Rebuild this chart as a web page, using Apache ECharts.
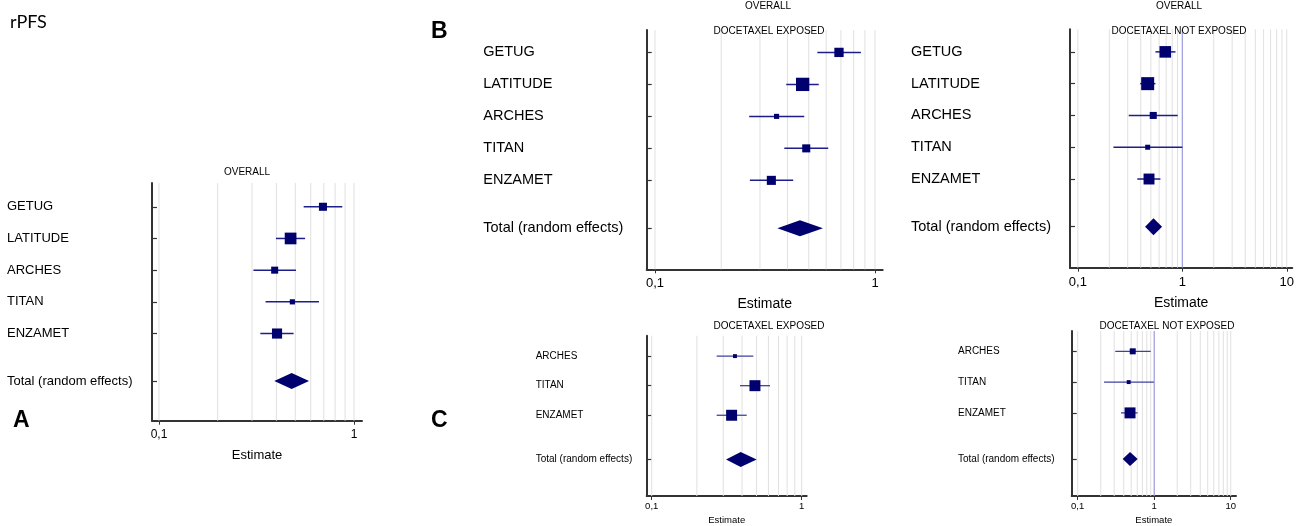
<!DOCTYPE html>
<html>
<head>
<meta charset="utf-8">
<script src="https://cdn.jsdelivr.net/npm/echarts@6/dist/echarts.min.js"></script>
<style>html,body{margin:0;padding:0;background:#fff}#c{width:1297px;height:526px}</style>
</head>
<body>
<div id="c"></div>
<script>
// ---------------- DATA ----------------
const studiesOverall = ['GETUG', 'LATITUDE', 'ARCHES', 'TITAN', 'ENZAMET'];
const studiesC = ['ARCHES', 'TITAN', 'ENZAMET'];
const totalLabel = 'Total (random effects)';
const rowsOverall = [0, 1, 2, 3, 4, 5.5];
const rowsC = [0, 1, 2, 3.5];

// Panel A: overall
const aEst  = [0.693, 0.473, 0.392, 0.483, 0.403];
const aLow  = [0.552, 0.398, 0.305, 0.352, 0.331];
const aHigh = [0.871, 0.561, 0.504, 0.661, 0.490];
const aWeight = [17, 36, 13, 7, 27];
const aTotal = [0.390, 0.479, 0.588]; // low, est, high

// Panel B1: overall, docetaxel exposed
const b1Est  = [0.686, 0.469, 0.357, 0.487, 0.338];
const b1Low  = [0.547, 0.395, 0.268, 0.387, 0.270];
const b1High = [0.863, 0.555, 0.477, 0.613, 0.425];
const b1Weight = [20, 41, 6, 15, 19];
const b1Total = [0.360, 0.456, 0.580];

// Panel B2: overall, docetaxel not exposed
const b2Est  = [0.687, 0.466, 0.527, 0.466, 0.480];
const b2Low  = [0.553, 0.395, 0.307, 0.219, 0.371];
const b2High = [0.860, 0.553, 0.904, 1.000, 0.617];
const b2Weight = [27, 34, 10, 5, 24];
const b2Total = [0.440, 0.530, 0.640];

// Panel C1: docetaxel exposed
const c1Est  = [0.359, 0.488, 0.341];
const c1Low  = [0.271, 0.388, 0.271];
const c1High = [0.476, 0.615, 0.430];
const c1Weight = [6, 47, 47];
const c1Total = [0.313, 0.392, 0.501];

// Panel C2: docetaxel not exposed
const c2Est  = [0.524, 0.464, 0.483];
const c2Low  = [0.310, 0.221, 0.368];
const c2High = [0.900, 0.990, 0.608];
const c2Weight = [21, 9, 70];
const c2Total = [0.387, 0.483, 0.608];

const gridNarrow = [0.1, 0.2, 0.3, 0.4, 0.5, 0.6, 0.7, 0.8, 0.9, 1];
const gridWide = [0.1, 0.2, 0.3, 0.4, 0.5, 0.6, 0.7, 0.8, 0.9, 2, 3, 4, 5, 6, 7, 8, 9, 10];
const tickNarrow = [0.1, 1];
const tickWide = [0.1, 1, 10];
const noEffect = [1];

// ---------------- RENDER ----------------
const FONT = '"Liberation Sans", Arial, sans-serif';
const MARK = '#00006e';
const TXT = '#000';

const panels = [
  { names: studiesOverall, rows: rowsOverall, est: aEst, low: aLow, high: aHigh, w: aWeight, tot: aTotal,
    grid: { left: 152, top: 183, width: 210, height: 237.7 }, xmin: 0.0921, xmax: 1.099, ymin: -0.75, ymax: 6.75,
    gl: gridNarrow, ticks: tickNarrow, ref: null, lab: 13, tickFont: 12, margin: 145, nameSize: 13, nameGap: 28,
    tickMargin: 8, sq: 1.95, dh: 8, lineW: 1.5, lineC: '#1e1e8a' },
  { names: studiesOverall, rows: rowsOverall, est: b1Est, low: b1Low, high: b1High, w: b1Weight, tot: b1Total,
    grid: { left: 646.7, top: 30, width: 236, height: 239.3 }, xmin: 0.0917, xmax: 1.084, ymin: -0.70, ymax: 6.78,
    gl: gridNarrow, ticks: tickNarrow, ref: null, lab: 14.5, tickFont: 13, margin: 163.4, nameSize: 14, nameGap: 28,
    tickMargin: 8, sq: 2.08, dh: 8, lineW: 1.5, lineC: '#1e1e8a' },
  { names: studiesOverall, rows: rowsOverall, est: b2Est, low: b2Low, high: b2High, w: b2Weight, tot: b2Total,
    grid: { left: 1070, top: 29.3, width: 227, height: 238.4 }, xmin: 0.0841, xmax: 11.29, ymin: -0.71, ymax: 6.79,
    gl: gridWide, ticks: tickWide, ref: noEffect, lab: 14.5, tickFont: 13, margin: 159, nameSize: 14, nameGap: 28,
    tickMargin: 8, sq: 2.23, dh: 8.5, lineW: 1.5, lineC: '#1e1e8a' },
  { names: studiesC, rows: rowsC, est: c1Est, low: c1Low, high: c1High, w: c1Weight, tot: c1Total,
    grid: { left: 646.7, top: 335.7, width: 160, height: 162.6 }, xmin: 0.0926, xmax: 1.08, ymin: -0.69, ymax: 4.73,
    gl: gridNarrow, ticks: tickNarrow, ref: null, lab: 10, tickFont: 9.5, margin: 111, nameSize: 9.5, nameGap: 19,
    tickMargin: 5, sq: 1.6, dh: 7.5, lineW: 1.3, lineC: '#4040a0' },
  { names: studiesC, rows: rowsC, est: c2Est, low: c2Low, high: c2High, w: c2Weight, tot: c2Total,
    grid: { left: 1071.7, top: 331, width: 164.3, height: 167.3 }, xmin: 0.0835, xmax: 11.72, ymin: -0.66, ymax: 4.70,
    gl: gridWide, ticks: tickWide, ref: noEffect, lab: 10, tickFont: 9.5, margin: 113.7, nameSize: 9.5, nameGap: 19,
    tickMargin: 5, sq: 1.31, dh: 7, lineW: 1.3, lineC: '#4040a0' }
];

const grids = [], xAxes = [], yAxes = [], series = [];

panels.forEach((p, i) => {
  grids.push(Object.assign({ containLabel: false }, p.grid));
  const labelMap = {};
  p.names.forEach((n, k) => { labelMap[p.rows[k]] = n; });
  labelMap[p.rows[p.rows.length - 1]] = totalLabel;

  xAxes.push({
    type: 'log', logBase: 10, gridIndex: i, min: p.xmin, max: p.xmax,
    name: 'Estimate', nameLocation: 'middle', nameGap: p.nameGap,
    nameTextStyle: { color: TXT, fontSize: p.nameSize, fontFamily: FONT },
    axisLine: { show: true, onZero: false, lineStyle: { color: '#333', width: 2 } },
    axisTick: { show: true, customValues: p.ticks, length: 4, lineStyle: { color: '#333', width: 1 } },
    axisLabel: { customValues: p.ticks, margin: p.tickMargin, color: TXT, fontSize: p.tickFont, fontFamily: FONT,
      formatter: v => String(v).replace('.', ',') },
    splitLine: { show: false }, minorTick: { show: false }
  });
  yAxes.push({
    type: 'value', gridIndex: i, inverse: true, min: p.ymin, max: p.ymax,
    axisLine: { show: true, onZero: false, lineStyle: { color: '#333', width: 2 } },
    axisTick: { show: true, inside: true, customValues: p.rows, length: 5, lineStyle: { color: '#333', width: 1.2 } },
    axisLabel: { customValues: p.rows, align: 'left', margin: p.margin, color: TXT, fontSize: p.lab, fontFamily: FONT,
      formatter: v => labelMap[v] || '' },
    splitLine: { show: false }
  });

  // vertical grid lines
  series.push({
    type: 'custom', xAxisIndex: i, yAxisIndex: i, silent: true, z: 1,
    data: p.gl.map(v => [v, 0]),
    renderItem: (params, api) => {
      const cs = params.coordSys;
      const x = api.coord([api.value(0), 0])[0];
      return { type: 'line', shape: { x1: x, y1: cs.y, x2: x, y2: cs.y + cs.height },
        style: { stroke: '#e0e0e0', lineWidth: 1 } };
    }
  });
  if (p.ref) {
    series.push({
      type: 'custom', xAxisIndex: i, yAxisIndex: i, silent: true, z: 2,
      data: p.ref.map(v => [v, 0]),
      renderItem: (params, api) => {
        const cs = params.coordSys;
        const x = api.coord([api.value(0), 0])[0];
        return { type: 'line', shape: { x1: x, y1: cs.y, x2: x, y2: cs.y + cs.height },
          style: { stroke: '#9a9ae0', lineWidth: 1.2 } };
      }
    });
  }
  // studies: CI line + weighted square
  series.push({
    type: 'custom', xAxisIndex: i, yAxisIndex: i, z: 3,
    encode: { x: [0, 1, 2], y: 3 },
    data: p.names.map((n, k) => [p.low[k], p.high[k], p.est[k], p.rows[k], p.w[k]]),
    renderItem: (params, api) => {
      const y = api.value(3);
      const lo = api.coord([api.value(0), y]);
      const hi = api.coord([api.value(1), y]);
      const c = api.coord([api.value(2), y]);
      const s = p.sq * Math.sqrt(api.value(4));
      return { type: 'group', children: [
        { type: 'line', shape: { x1: lo[0], y1: lo[1], x2: hi[0], y2: hi[1] }, style: { stroke: p.lineC, lineWidth: p.lineW } },
        { type: 'rect', shape: { x: c[0] - s / 2, y: c[1] - s / 2, width: s, height: s }, style: { fill: MARK } }
      ] };
    }
  });
  // pooled diamond
  series.push({
    type: 'custom', xAxisIndex: i, yAxisIndex: i, z: 3,
    encode: { x: [0, 1, 2], y: 3 },
    data: [[p.tot[0], p.tot[1], p.tot[2], p.rows[p.rows.length - 1]]],
    renderItem: (params, api) => {
      const y = api.value(3);
      const lo = api.coord([api.value(0), y]);
      const c = api.coord([api.value(1), y]);
      const hi = api.coord([api.value(2), y]);
      return { type: 'polygon', shape: { points: [[lo[0], lo[1]], [c[0], c[1] - p.dh], [hi[0], hi[1]], [c[0], c[1] + p.dh]] },
        style: { fill: MARK } };
    }
  });
});

function txt(text, x, y, size, opts) {
  opts = opts || {};
  return { type: 'text', x: x, y: y, silent: true, z: 10,
    style: { text: text, fill: TXT, font: (opts.bold ? 'bold ' : '') + size + 'px ' + (opts.family || FONT),
      align: opts.align || 'center', textAlign: opts.align || 'center', verticalAlign: 'middle', textVerticalAlign: 'middle' } };
}

const graphics = [
  txt('rPFS', 10, 22, 18, { align: 'left', family: 'Lato, "Open Sans", sans-serif' }),
  txt('A', 13, 421, 23, { bold: true, align: 'left' }),
  txt('B', 431, 32, 23, { bold: true, align: 'left' }),
  txt('C', 431, 421, 23, { bold: true, align: 'left' }),
  txt('OVERALL', 247, 172, 10),
  txt('OVERALL', 768, 6, 10),
  txt('DOCETAXEL EXPOSED', 769, 31, 10),
  txt('OVERALL', 1179, 6, 10),
  txt('DOCETAXEL NOT EXPOSED', 1179, 31.5, 10),
  txt('DOCETAXEL EXPOSED', 769, 326, 10),
  txt('DOCETAXEL NOT EXPOSED', 1167, 326, 10)
];

const chart = echarts.init(document.getElementById('c'), null, { renderer: 'canvas' });
chart.setOption({
  animation: false,
  backgroundColor: '#fff',
  grid: grids, xAxis: xAxes, yAxis: yAxes, series: series,
  graphic: graphics
});
</script>
</body>
</html>
